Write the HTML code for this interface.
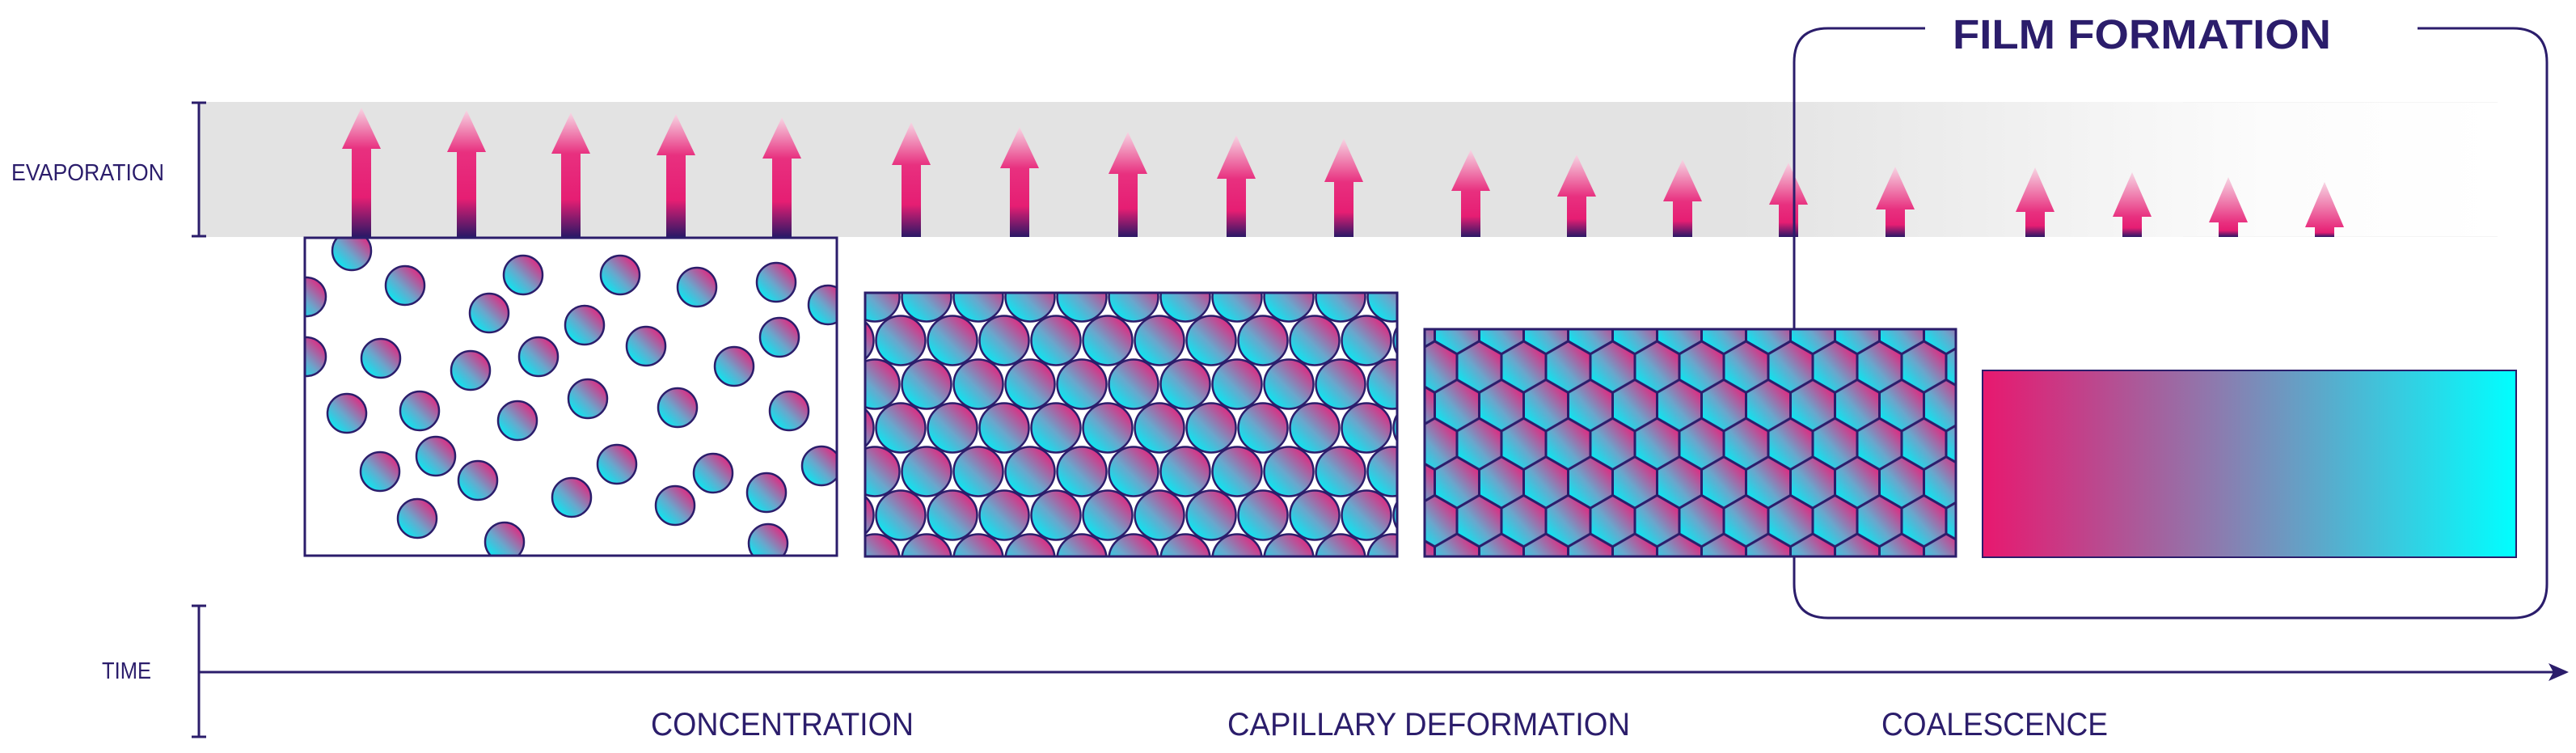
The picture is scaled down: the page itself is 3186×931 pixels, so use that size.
<!DOCTYPE html>
<html><head><meta charset="utf-8"><style>
html,body{margin:0;padding:0;background:#fff;}
svg{display:block;}
</style></head><body>
<svg width="3186" height="931" viewBox="0 0 3186 931" xmlns="http://www.w3.org/2000/svg">
<defs>
  <linearGradient id="pg" x1="1" y1="0" x2="0" y2="1">
    <stop offset="0.1" stop-color="#e8207a"/>
    <stop offset="0.55" stop-color="#6aa6cc"/>
    <stop offset="0.9" stop-color="#00eef5"/>
  </linearGradient>
  <linearGradient id="band" x1="0" y1="0" x2="1" y2="0">
    <stop offset="0" stop-color="#e3e3e3"/>
    <stop offset="0.67" stop-color="#e3e3e3"/>
    <stop offset="0.8" stop-color="#f1f1f1"/>
    <stop offset="0.9" stop-color="#fcfcfc"/>
    <stop offset="1" stop-color="#ffffff"/>
  </linearGradient>
  <linearGradient id="shaft" x1="0" y1="0" x2="0" y2="1">
    <stop offset="0" stop-color="#e8307f"/>
    <stop offset="0.55" stop-color="#e61e73"/>
    <stop offset="1" stop-color="#2a1866"/>
  </linearGradient>
  <linearGradient id="head" x1="0" y1="0" x2="0" y2="1">
    <stop offset="0" stop-color="#f7d6e4"/>
    <stop offset="1" stop-color="#e8307f"/>
  </linearGradient>
  <linearGradient id="film" x1="0" y1="0" x2="1" y2="0">
    <stop offset="0" stop-color="#e8186f"/>
    <stop offset="0.45" stop-color="#8a7db0"/>
    <stop offset="1" stop-color="#00ffff"/>
  </linearGradient>
  <pattern id="cpat" patternUnits="userSpaceOnUse" x="1082" y="367" width="64" height="108">
    <g fill="url(#pg)" stroke="#2b1d6b" stroke-width="2.5">
      <circle cx="0" cy="0" r="30.5"/><circle cx="64" cy="0" r="30.5"/>
      <circle cx="32" cy="54" r="30.5"/>
      <circle cx="0" cy="108" r="30.5"/><circle cx="64" cy="108" r="30.5"/>
    </g>
  </pattern>
  <pattern id="hpat" patternUnits="userSpaceOnUse" x="1802" y="406" width="55" height="95.26">
    <g fill="url(#pg)" stroke="#2b1d6b" stroke-width="3">
      <polygon points="0,-31.75 27.5,-15.875 27.5,15.875 0,31.75 -27.5,15.875 -27.5,-15.875"/>
      <polygon transform="translate(55,0)" points="0,-31.75 27.5,-15.875 27.5,15.875 0,31.75 -27.5,15.875 -27.5,-15.875"/>
      <polygon transform="translate(27.5,47.63)" points="0,-31.75 27.5,-15.875 27.5,15.875 0,31.75 -27.5,15.875 -27.5,-15.875"/>
      <polygon transform="translate(0,95.26)" points="0,-31.75 27.5,-15.875 27.5,15.875 0,31.75 -27.5,15.875 -27.5,-15.875"/>
      <polygon transform="translate(55,95.26)" points="0,-31.75 27.5,-15.875 27.5,15.875 0,31.75 -27.5,15.875 -27.5,-15.875"/>
    </g>
  </pattern>
  <clipPath id="clip1"><rect x="377" y="294" width="658" height="393"/></clipPath>
</defs>

<rect x="246" y="126" width="2843" height="167" fill="url(#band)"/>
<line x1="2700" y1="126.5" x2="3089" y2="126.5" stroke="#f4f4f4" stroke-width="1"/>
<line x1="2700" y1="292.5" x2="3089" y2="292.5" stroke="#f4f4f4" stroke-width="1"/>

<g stroke="#2b1d6b" stroke-width="3">
  <line x1="246" y1="126" x2="246" y2="293"/>
  <line x1="237" y1="127" x2="255" y2="127"/>
  <line x1="237" y1="292" x2="255" y2="292"/>
</g>
<text x="14" y="223" font-family="Liberation Sans, sans-serif" font-size="29" fill="#2b1d6b" textLength="189" lengthAdjust="spacingAndGlyphs">EVAPORATION</text>

<g>
<path d="M423,184 L447,133 L471,184 Z" fill="url(#head)"/><rect x="435" y="184" width="24" height="109" fill="url(#shaft)"/>
<path d="M553,188 L577,136 L601,188 Z" fill="url(#head)"/><rect x="565" y="188" width="24" height="105" fill="url(#shaft)"/>
<path d="M682,190 L706,139 L730,190 Z" fill="url(#head)"/><rect x="694" y="190" width="24" height="103" fill="url(#shaft)"/>
<path d="M812,192 L836,141 L860,192 Z" fill="url(#head)"/><rect x="824" y="192" width="24" height="101" fill="url(#shaft)"/>
<path d="M943,196 L967,145 L991,196 Z" fill="url(#head)"/><rect x="955" y="196" width="24" height="97" fill="url(#shaft)"/>
<path d="M1103,204 L1127,151 L1151,204 Z" fill="url(#head)"/><rect x="1115" y="204" width="24" height="89" fill="url(#shaft)"/>
<path d="M1237,208 L1261,157 L1285,208 Z" fill="url(#head)"/><rect x="1249" y="208" width="24" height="85" fill="url(#shaft)"/>
<path d="M1371,215 L1395,163 L1419,215 Z" fill="url(#head)"/><rect x="1383" y="215" width="24" height="78" fill="url(#shaft)"/>
<path d="M1505,221 L1529,167 L1553,221 Z" fill="url(#head)"/><rect x="1517" y="221" width="24" height="72" fill="url(#shaft)"/>
<path d="M1638,225 L1662,171 L1686,225 Z" fill="url(#head)"/><rect x="1650" y="225" width="24" height="68" fill="url(#shaft)"/>
<path d="M1795,236 L1819,185 L1843,236 Z" fill="url(#head)"/><rect x="1807" y="236" width="24" height="57" fill="url(#shaft)"/>
<path d="M1926,243 L1950,191 L1974,243 Z" fill="url(#head)"/><rect x="1938" y="243" width="24" height="50" fill="url(#shaft)"/>
<path d="M2057,249 L2081,197 L2105,249 Z" fill="url(#head)"/><rect x="2069" y="249" width="24" height="44" fill="url(#shaft)"/>
<path d="M2188,253 L2212,201 L2236,253 Z" fill="url(#head)"/><rect x="2200" y="253" width="24" height="40" fill="url(#shaft)"/>
<path d="M2320,259 L2344,206 L2368,259 Z" fill="url(#head)"/><rect x="2332" y="259" width="24" height="34" fill="url(#shaft)"/>
<path d="M2493,262 L2517,207 L2541,262 Z" fill="url(#head)"/><rect x="2505" y="262" width="24" height="31" fill="url(#shaft)"/>
<path d="M2613,268 L2637,213 L2661,268 Z" fill="url(#head)"/><rect x="2625" y="268" width="24" height="25" fill="url(#shaft)"/>
<path d="M2732,275 L2756,219 L2780,275 Z" fill="url(#head)"/><rect x="2744" y="275" width="24" height="18" fill="url(#shaft)"/>
<path d="M2851,281 L2875,225 L2899,281 Z" fill="url(#head)"/><rect x="2863" y="281" width="24" height="12" fill="url(#shaft)"/>
</g>

<path d="M2381,35 L2261,35 Q2219,35 2219,77 L2219,722 Q2219,764 2261,764 L3108,764 Q3150,764 3150,722 L3150,77 Q3150,35 3108,35 L2990,35" fill="none" stroke="#2b1d6b" stroke-width="3"/>
<text x="2415" y="60" font-family="Liberation Sans, sans-serif" font-weight="bold" font-size="51" fill="#2b1d6b" textLength="468" lengthAdjust="spacingAndGlyphs">FILM FORMATION</text>

<rect x="377" y="294" width="658" height="393" fill="#fff"/>
<g clip-path="url(#clip1)" fill="url(#pg)" stroke="#2b1d6b" stroke-width="2.5">
<circle cx="435" cy="310" r="24"/><circle cx="379" cy="367" r="24"/><circle cx="501" cy="353" r="24"/>
<circle cx="647" cy="340" r="24"/><circle cx="767" cy="340" r="24"/><circle cx="862" cy="355" r="24"/>
<circle cx="960" cy="349" r="24"/><circle cx="1024" cy="377" r="24"/><circle cx="605" cy="387" r="24"/>
<circle cx="723" cy="402" r="24"/><circle cx="799" cy="428" r="24"/><circle cx="964" cy="417" r="24"/>
<circle cx="379" cy="441" r="24"/><circle cx="471" cy="443" r="24"/><circle cx="582" cy="458" r="24"/>
<circle cx="666" cy="441" r="24"/><circle cx="908" cy="453" r="24"/><circle cx="429" cy="511" r="24"/>
<circle cx="519" cy="508" r="24"/><circle cx="640" cy="520" r="24"/><circle cx="727" cy="493" r="24"/>
<circle cx="838" cy="504" r="24"/><circle cx="976" cy="508" r="24"/><circle cx="539" cy="564" r="24"/>
<circle cx="470" cy="583" r="24"/><circle cx="591" cy="594" r="24"/><circle cx="763" cy="574" r="24"/>
<circle cx="882" cy="585" r="24"/><circle cx="1016" cy="576" r="24"/><circle cx="707" cy="615" r="24"/>
<circle cx="835" cy="625" r="24"/><circle cx="948" cy="609" r="24"/><circle cx="516" cy="641" r="24"/>
<circle cx="624" cy="670" r="24"/><circle cx="950" cy="672" r="24"/>
</g>
<rect x="377" y="294" width="658" height="393" fill="none" stroke="#2b1d6b" stroke-width="3"/>

<rect x="1070" y="362" width="658" height="326" fill="url(#cpat)" stroke="#2b1d6b" stroke-width="3"/>

<rect x="1762" y="407" width="657" height="281" fill="#fff"/>
<rect x="1762" y="407" width="657" height="281" fill="url(#hpat)" stroke="#2b1d6b" stroke-width="3"/>

<rect x="2452" y="458" width="660" height="231" fill="url(#film)" stroke="#2b1d6b" stroke-width="2"/>

<g stroke="#2b1d6b" stroke-width="3">
  <line x1="246" y1="748" x2="246" y2="912"/>
  <line x1="237" y1="749" x2="255" y2="749"/>
  <line x1="237" y1="911" x2="255" y2="911"/>
  <line x1="246" y1="831" x2="3160" y2="831"/>
</g>
<path d="M3177,831 L3152,820 L3158,831 L3152,842 Z" fill="#2b1d6b"/>
<text x="126" y="839" font-family="Liberation Sans, sans-serif" font-size="29" fill="#2b1d6b" textLength="61" lengthAdjust="spacingAndGlyphs">TIME</text>

<g font-family="Liberation Sans, sans-serif" font-size="40" fill="#2b1d6b">
<text x="805" y="909" textLength="325" lengthAdjust="spacingAndGlyphs">CONCENTRATION</text>
<text x="1518" y="909" textLength="498" lengthAdjust="spacingAndGlyphs">CAPILLARY DEFORMATION</text>
<text x="2327" y="909" textLength="280" lengthAdjust="spacingAndGlyphs">COALESCENCE</text>
</g>
</svg>
</body></html>
